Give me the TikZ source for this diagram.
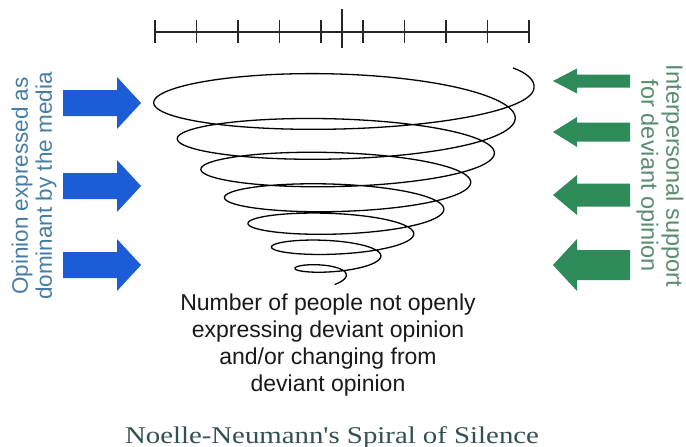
\documentclass[tikz,border=0pt]{standalone}
\usepackage{fontspec}
\setmainfont{Liberation Sans}
\newfontfamily\titlefont[FakeStretch=1.2]{Liberation Serif}
\definecolor{arrowblue}{RGB}{28,92,214}
\definecolor{arrowgreen}{RGB}{46,138,88}
\definecolor{lefttextcol}{RGB}{70,125,165}
\definecolor{righttextcol}{RGB}{90,140,110}
\definecolor{titlecol}{RGB}{50,80,80}
\tikzset{
  scaleline/.style={line width=1.6pt, black!85},
  spiralline/.style={line width=1.3pt, black, line join=round},
  bluearrow/.style={fill=arrowblue},
  greenarrow/.style={fill=arrowgreen},
  lefttxt/.style={text=lefttextcol, align=center, inner sep=0pt, font=\fontsize{22.5}{24}\selectfont},
  righttxt/.style={text=righttextcol, align=center, inner sep=0pt, font=\fontsize{23.5}{25}\selectfont},
  bottomtxt/.style={text=black!90, align=center, inner sep=0pt, font=\fontsize{23}{27}\selectfont},
  titletxt/.style={text=titlecol, inner sep=0pt, font=\titlefont\fontsize{24}{26}\selectfont}
}
\begin{document}
\begin{tikzpicture}[x=1pt,y=-1pt]
\useasboundingbox (0,0) rectangle (686,447);
\fill[white] (0,0) rectangle (686,447);

% scale bar
\coordinate (sbL) at (155,32);
\coordinate (sbR) at (529,32);
\draw[scaleline] (sbL) -- (sbR);
\foreach \i in {0,...,9} \draw[scaleline] ({155+\i*41.556},20) -- ++(0,23);
\coordinate (midtop) at (342,9);
\coordinate (midbot) at (342,48);
\draw[scaleline] (midtop) -- (midbot);

% blue arrows (left, pointing right)
\foreach \c in {103,186,265}
  \fill[bluearrow] (63,{\c-13}) -- (117,{\c-13}) -- (117,{\c-26}) -- (141,\c)
    -- (117,{\c+26}) -- (117,{\c+13}) -- (63,{\c+13}) -- cycle;

% green arrows (right, pointing left)
\foreach \c/\h/\b in {81/12.5/6.5, 132/15/9.5, 195/20/11.5, 265/26/15}
  \fill[greenarrow] (553,\c) -- (577,{\c-\h}) -- (577,{\c-\b}) -- (630,{\c-\b})
    -- (630,{\c+\b}) -- (577,{\c+\b}) -- (577,{\c+\h}) -- cycle;

% spiral
\draw[spiralline] (513,68) .. controls (527,73) and (535,80) .. (534,88)
  -- plot[variable=\q, domain=0:14.3, samples=800]
  ({338 + 6*sin(180*\q/14) - 0.06*\q*\q + (196 - 11.5*\q - 0.08*\q*\q + 5*sin(180*\q/14))*cos(180*\q)},
   {88 + 17.6*\q - 0.29*\q*\q + (3 + 0.155*(196 - 11.5*\q - 0.08*\q*\q))*sin(180*\q) - 9*exp(-4*(\q-1.5)*(\q-1.5))});

% texts
\node[lefttxt, rotate=90] (ltext) at (34,186) {Opinion expressed as\\dominant by the media};
\node[righttxt, rotate=-90] (rtext) at (660,176) {Interpersonal support\\for deviant opinion};
\node[bottomtxt, anchor=north] (btext) at (328,294) {Number of people not openly\\expressing deviant opinion\\and/or changing from\\deviant opinion};
\node[titletxt, anchor=base] (title) at (332,443) {Noelle-Neumann's Spiral of Silence};
\end{tikzpicture}
\end{document}
